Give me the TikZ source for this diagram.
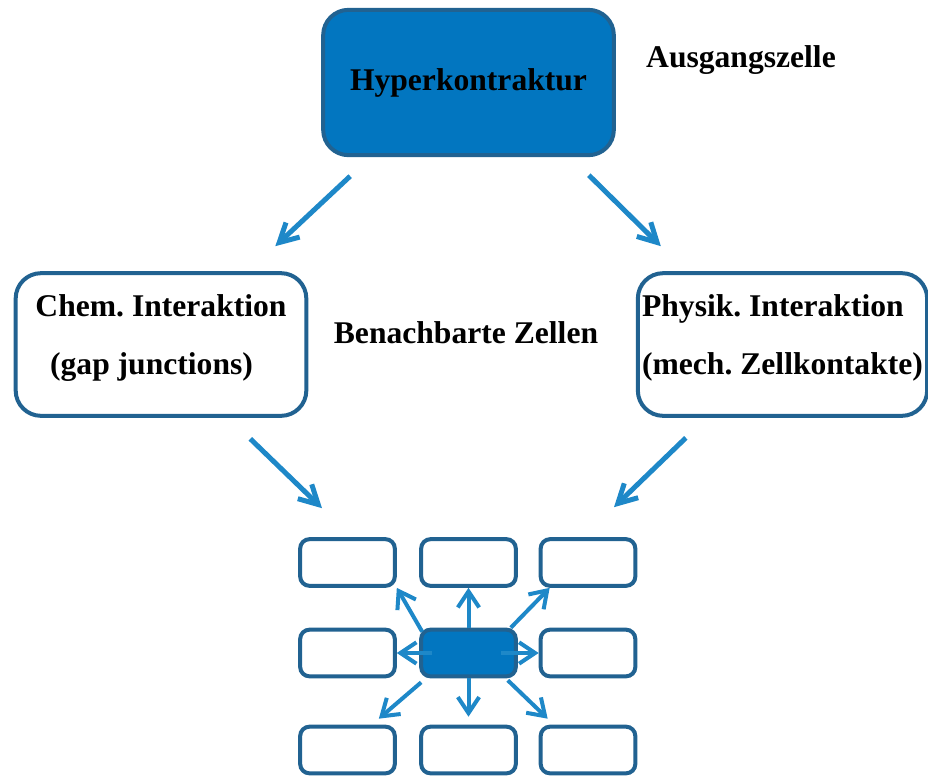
\documentclass[tikz,border=0pt]{standalone}
\usepackage{fontspec}
\setmainfont{Liberation Serif}
\usetikzlibrary{arrows.meta,positioning}
\frenchspacing

\definecolor{cellfill}{RGB}{2,118,192}
\definecolor{cellline}{RGB}{33,98,145}
\definecolor{arrowblue}{RGB}{30,136,200}

\tikzset{
  sidebox/.style={draw=cellline, line width=3pt, rounded corners=19pt, fill=white,
    minimum width=218pt, minimum height=107pt, inner sep=1pt,
    font=\fontsize{23.7}{43}\selectfont\bfseries},
  cellbox/.style={draw=cellline, line width=3pt, rounded corners=7pt, fill=white,
    minimum width=71pt, minimum height=35pt},
  notetext/.style={font=\fontsize{23.7}{43}\selectfont\bfseries},
  bigarrow/.style={draw=arrowblue, line width=3.75pt, -{Straight Barb[length=14pt,width=15pt]}},
  smallarrow/.style={draw=arrowblue, line width=3pt, -{Straight Barb[length=12pt,width=16pt]}}
}

\begin{document}
\begin{tikzpicture}[x=0.75pt, y=-0.75pt]
  \useasboundingbox (0,0) rectangle (928,775);

  % Ausgangszelle oben
  \node[sidebox, fill=cellfill, minimum height=109pt] (hyper) at (468.5,82.5) {Hyperkontraktur};
  \node[notetext] (start) at (741,60) {Ausgangszelle};

  % die beiden Wege zu den Nachbarzellen
  \node[sidebox, align=left, text depth=15pt] (chem) at (161,344.5) {Chem. Interaktion\\\hspace*{11pt}(gap junctions)};
  \node[sidebox, align=left, text depth=15pt, minimum width=217pt] (phys) at (782.5,344.5) {Physik. Interaktion\\(mech. Zellkontakte)};
  \node[notetext] (neighbours) at (466,333) {Benachbarte Zellen};

  \draw[bigarrow] ([shift={(29,19)}]hyper.south west) -- ([shift={(-33,-25)}]chem.north east);
  \draw[bigarrow] ([shift={(-27,18)}]hyper.south east) -- ([shift={(25,-25)}]phys.north west);

  % Zellverband, Mitte = kontrahierte Zelle
  \node[cellbox] (nw) at (347.5,562.5) {};
  \node[cellbox] (n) at (468.5,562.5) {};
  \node[cellbox] (ne) at (588,562.5) {};
  \node[cellbox] (w) at (347.5,653) {};
  \node[cellbox, fill=cellfill] (c) at (468.5,653) {};
  \node[cellbox] (e) at (588,653) {};
  \node[cellbox] (sw) at (347.5,750) {};
  \node[cellbox] (s) at (468.5,750) {};
  \node[cellbox] (se) at (588,750) {};

  \draw[bigarrow] ([shift={(-58,21)}]chem.south east) -- ([shift={(-25.5,-29)}]nw.north);
  \draw[bigarrow] ([shift={(50,20)}]phys.south west) -- ([shift={(26,-30)}]ne.north);

  % Ausbreitung auf die Nachbarn
  \draw[smallarrow] ([shift={(3,4)}]c.north west) -- (nw.south east);
  \draw[smallarrow] (c.north) -- (n.south);
  \draw[smallarrow] ([shift={(-7,0)}]c.north east) -- ([shift={(11,0)}]ne.south west);
  \draw[smallarrow] ([shift={(13,0)}]c.west) -- (w.east);
  \draw[smallarrow] ([shift={(-17,0)}]c.east) -- (e.west);
  \draw[smallarrow] ([shift={(2,4)}]c.south west) -- ([shift={(-18,-6)}]sw.north east);
  \draw[smallarrow] (c.south) -- ([shift={(0,-8)}]s.north);
  \draw[smallarrow] ([shift={(-10,2)}]c.south east) -- ([shift={(9,-6)}]se.north west);
\end{tikzpicture}
\end{document}
